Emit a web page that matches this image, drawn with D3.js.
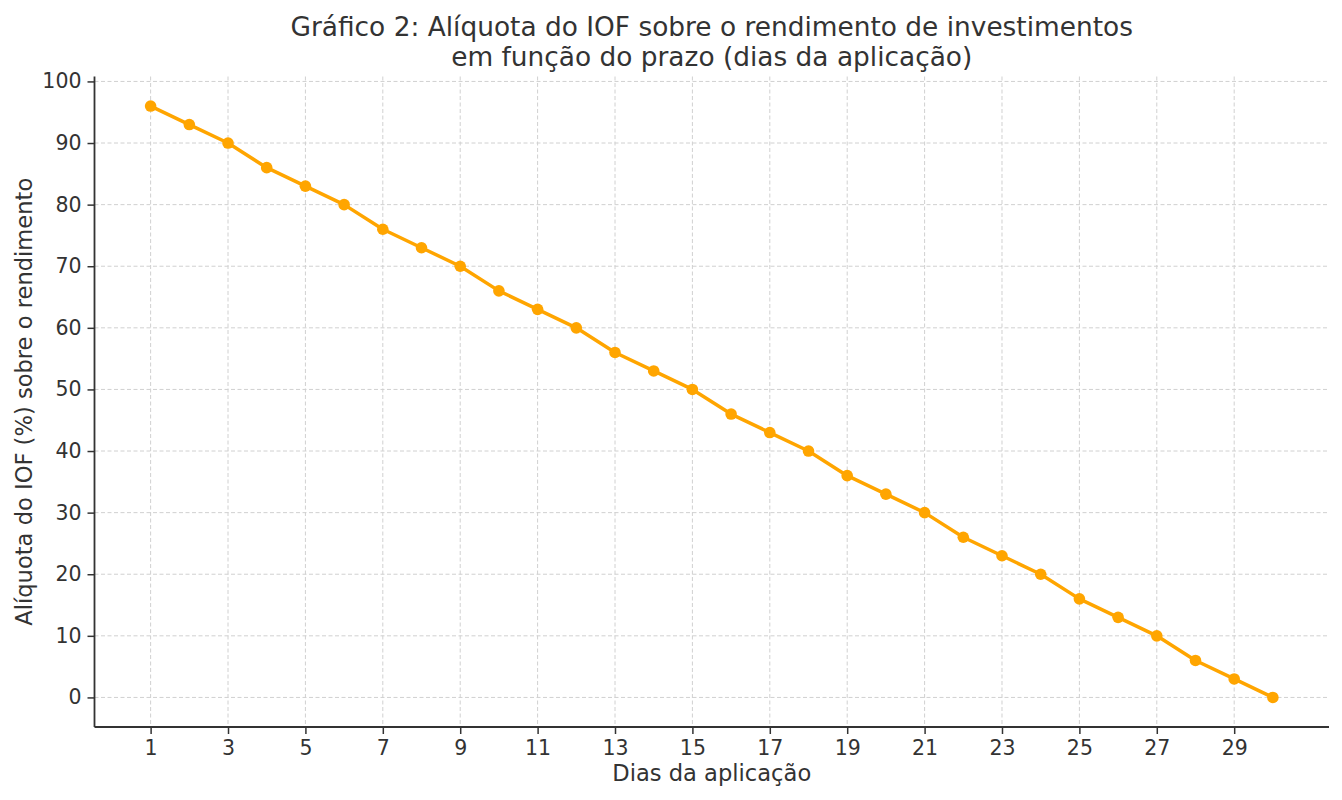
<!DOCTYPE html>
<html><head><meta charset="utf-8">
<script src="https://cdn.jsdelivr.net/npm/d3@7"></script>
<style>body{margin:0;background:#fff}svg{display:block;font-family:"DejaVu Sans",sans-serif}</style>
</head><body><svg id="c" width="1342" height="800"></svg>
<script>
const days = d3.range(1, 31);
const rates = [96,93,90,86,83,80,76,73,70,66,63,60,56,53,50,46,43,40,36,33,30,26,23,20,16,13,10,6,3,0];
const xTicks = [1,3,5,7,9,11,13,15,17,19,21,23,25,27,29];
const yTicks = [0,10,20,30,40,50,60,70,80,90,100];
const titleLines = ["Gráfico 2: Alíquota do IOF sobre o rendimento de investimentos","em função do prazo (dias da aplicação)"];
const xLabel = "Dias da aplicação";
const yLabel = "Alíquota do IOF (%) sobre o rendimento";

const svg = d3.select("#c");
const L = 94.5, R = 1329, T = 76.5, B = 727;
const x = d3.scaleLinear().domain([-0.45, 31.45]).range([L, R]);
const y = d3.scaleLinear().domain([-4.8, 100.8]).range([B, T]);
const ink = "#333";

// grid
svg.append("g").selectAll("line").data(xTicks).join("line")
  .attr("x1", d => x(d)).attr("x2", d => x(d)).attr("y1", T).attr("y2", B)
  .attr("stroke", "#d0d0d0").attr("stroke-width", 1).attr("stroke-dasharray", "4,2.5");
svg.append("g").selectAll("line").data(yTicks).join("line")
  .attr("x1", L).attr("x2", R).attr("y1", d => y(d)).attr("y2", d => y(d))
  .attr("stroke", "#d0d0d0").attr("stroke-width", 1).attr("stroke-dasharray", "4,2.5");

// axes
const xa = svg.append("g").attr("transform", `translate(0,${B})`)
  .call(d3.axisBottom(x).tickValues(xTicks).tickSize(7).tickPadding(6).tickSizeOuter(0));
const ya = svg.append("g").attr("transform", `translate(${L},0)`)
  .call(d3.axisLeft(y).tickValues(yTicks).tickSize(7).tickPadding(6).tickSizeOuter(0));
[xa, ya].forEach(a => {
  a.select(".domain").attr("stroke", ink).attr("stroke-width", 1.8);
  a.selectAll(".tick line").attr("stroke", ink).attr("stroke-width", 1.5);
  a.selectAll(".tick text").attr("fill", ink).attr("font-size", 20.5).attr("font-family", "DejaVu Sans");
});
xa.select(".domain").attr("d", `M${L},0H${R}`);
ya.select(".domain").attr("d", `M0,${T}V${B}`);

// line
svg.append("path").datum(days)
  .attr("d", d3.line().x(d => x(d)).y((d, i) => y(rates[i])))
  .attr("fill", "none").attr("stroke", "#FFA500").attr("stroke-width", 3.5)
  .attr("stroke-linejoin", "round");
svg.append("g").selectAll("circle").data(days).join("circle")
  .attr("cx", d => x(d)).attr("cy", (d, i) => y(rates[i])).attr("r", 5.8)
  .attr("fill", "#FFA500");

// title
const cx = (L + R) / 2;
svg.append("text").attr("x", cx).attr("y", 36).attr("text-anchor", "middle")
  .attr("font-size", 26.4).attr("fill", ink).text(titleLines[0]);
svg.append("text").attr("x", cx).attr("y", 66).attr("text-anchor", "middle")
  .attr("font-size", 26.4).attr("fill", ink).text(titleLines[1]);
svg.append("text").attr("x", cx).attr("y", 781).attr("text-anchor", "middle")
  .attr("font-size", 22.6).attr("fill", ink).text(xLabel);
svg.append("text").attr("transform", `translate(32,${(T + B) / 2}) rotate(-90)`)
  .attr("text-anchor", "middle").attr("font-size", 22.6).attr("fill", ink).text(yLabel);
</script></body></html>
